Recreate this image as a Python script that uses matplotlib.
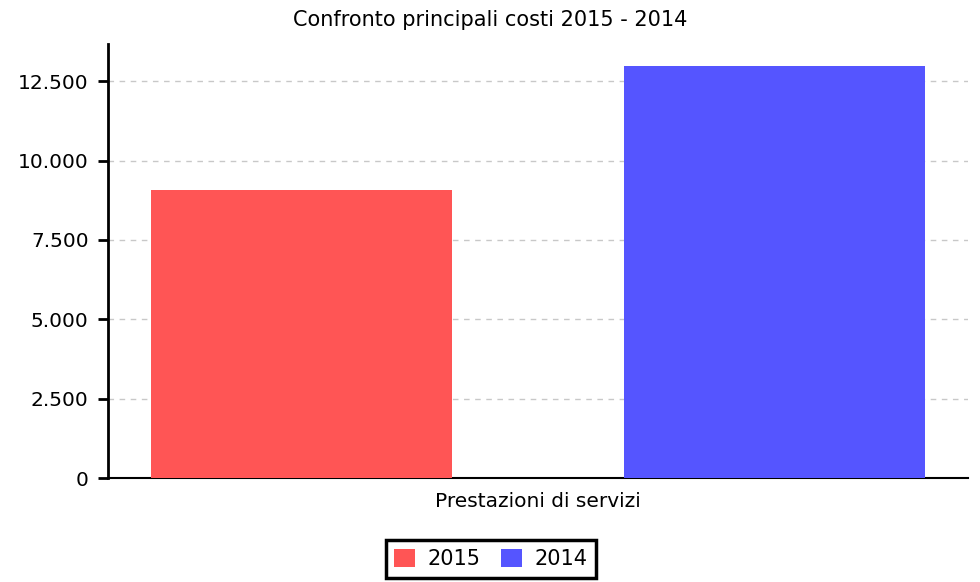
import numpy as np
import matplotlib.pyplot as plt
from matplotlib.ticker import FuncFormatter

categorie = ["Prestazioni di servizi"]
anni = ["2015", "2014"]
valori_2015 = [9060]
valori_2014 = [12970]
colori = ["#ff5555", "#5555ff"]

plt.rcParams['font.family'] = ['DejaVu Sans']

fig = plt.figure(figsize=(9.8, 5.82), dpi=100)
ax = fig.add_axes([108/980, 1-478/582, 860/980, 434/582])

x = np.arange(len(categorie))
w = 0.35
ax.bar(x - 0.275, valori_2015, w, color=colori[0], label=anni[0], zorder=3)
ax.bar(x + 0.275, valori_2014, w, color=colori[1], label=anni[1], zorder=3)

ax.set_xlim(-0.5, 0.5)
ax.set_ylim(0, 13670)
ax.set_yticks([0, 2500, 5000, 7500, 10000, 12500])
ax.yaxis.set_major_formatter(FuncFormatter(lambda v, p: f"{int(v):,}".replace(",", ".")))
ax.set_xticks(x)
ax.set_xticklabels(categorie, fontsize=14.5)
ax.tick_params(axis='x', length=0, pad=10)
ax.tick_params(axis='y', labelsize=14.5, length=7, width=2, direction='out', pad=7)
ax.grid(axis='y', color='#c8c8c8', linestyle=(0, (4, 4)), linewidth=1, zorder=0)

ax.spines['top'].set_visible(False)
ax.spines['right'].set_visible(False)
ax.spines['left'].set_linewidth(2)
ax.spines['bottom'].set_linewidth(1.5)

fig.text(0.5, 1-20/582, "Confronto principali costi 2015 - 2014", ha='center', va='center', fontsize=15)

leg = fig.legend(loc='center', bbox_to_anchor=(491/980, 1-559/582), ncol=2, fontsize=15,
                 frameon=True, fancybox=False, framealpha=1, handlelength=1.0, handleheight=1.0,
                 columnspacing=1.0, handletextpad=0.6, borderpad=0.4)
leg.get_frame().set_edgecolor('black')
leg.get_frame().set_linewidth(2.5)

fig.savefig("out.png", dpi=100)
plt.close()
